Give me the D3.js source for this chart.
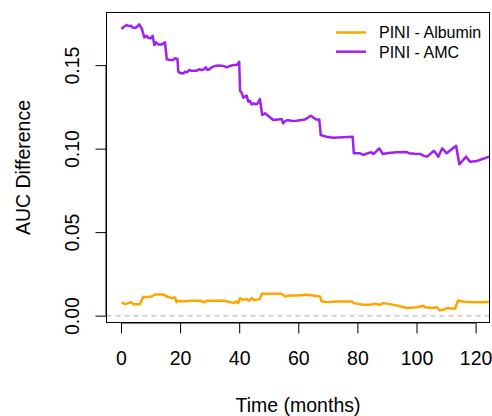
<!DOCTYPE html>
<html>
<head>
<meta charset="utf-8">
<script src="https://cdn.jsdelivr.net/npm/d3@7/dist/d3.min.js"></script>
<style>
html,body{margin:0;padding:0;background:#fff;}
text{font-family:"Liberation Sans",Arial,sans-serif;fill:#000;}
</style>
</head>
<body>
<svg id="chart" width="492" height="416"></svg>
<script>
// ---- data ----
const seriesNames = ["PINI - Albumin", "PINI - AMC"];
const seriesColors = ["#FFA500", "#A020F0"];

const amcMonths = [0.2,1.0,1.9,2.7,3.4,4.0,5.1,6.2,7.0,7.9,8.7,9.2,10.0,10.7,11.3,11.8,12.6,13.8,14.9,15.5,16.6,17.7,18.3,19.1,19.4,20.2,21.1,21.7,22.4,23.1,23.7,24.5,25.6,26.4,27.3,28.1,28.7,29.2,29.9,30.7,31.8,32.9,34.6,35.8,36.9,38.0,39.2,40.0,40.3,40.8,41.4,41.9,42.5,43.1,43.7,44.2,45.0,45.6,46.3,47.0,47.8,48.7,49.8,51.5,53.2,54.4,54.9,55.5,56.4,57.8,59.4,62.3,64.3,66.0,67.1,67.6,69.6,71.8,75.2,78.4,78.8,80.9,82.0,83.4,84.8,85.4,86.2,87.4,88.6,90.5,93.3,96.7,97.5,99.5,101.4,102.3,103.6,105.9,107.4,108.7,110.2,113.4,114.5,116.8,118.1,120.4,124.6];
const amcValues = [0.1716,0.1730,0.1740,0.1734,0.1736,0.1724,0.1724,0.1744,0.1720,0.1666,0.1676,0.1664,0.1660,0.1676,0.1620,0.1636,0.1624,0.1624,0.1636,0.1535,0.1531,0.1531,0.1541,0.1537,0.1461,0.1451,0.1451,0.1461,0.1457,0.1471,0.1467,0.1467,0.1467,0.1475,0.1471,0.1475,0.1487,0.1471,0.1475,0.1487,0.1495,0.1497,0.1495,0.1487,0.1495,0.1501,0.1501,0.1520,0.1345,0.1337,0.1305,0.1311,0.1317,0.1281,0.1285,0.1265,0.1271,0.1265,0.1271,0.1297,0.1201,0.1211,0.1197,0.1171,0.1175,0.1177,0.1151,0.1165,0.1171,0.1165,0.1167,0.1175,0.1197,0.1175,0.1175,0.1081,0.1071,0.1065,0.1068,0.1071,0.0972,0.0972,0.0962,0.0972,0.0978,0.0968,0.0981,0.1002,0.0968,0.0974,0.0978,0.0980,0.0972,0.0969,0.0968,0.0958,0.0952,0.0987,0.0952,0.1002,0.0972,0.1017,0.0906,0.0952,0.0922,0.0926,0.0952];

const albMonths = [0.2,1.4,2.5,3.4,4.2,6.4,7.5,8.7,10.4,11.5,14.3,15.5,17.2,18.3,18.8,19.4,20.5,23.3,26.7,28.4,29.0,32.4,34.6,36.9,38.2,38.9,39.7,40.3,41.2,42.5,43.4,44.2,45.1,47.0,47.7,50.4,54.3,55.5,57.2,59.4,62.8,65.1,67.3,67.9,69.6,73.0,78.1,78.8,82.0,84.3,86.0,87.6,88.8,91.0,94.4,96.7,100.0,102.3,102.9,105.7,106.8,107.9,109.1,110.2,113.0,114.1,115.8,118.1,120.4,124.6];
const albValues = [0.0080,0.0069,0.0075,0.0080,0.0069,0.0069,0.0111,0.0111,0.0115,0.0127,0.0127,0.0115,0.0105,0.0109,0.0081,0.0089,0.0085,0.0089,0.0089,0.0080,0.0089,0.0089,0.0091,0.0081,0.0075,0.0085,0.0075,0.0105,0.0095,0.0099,0.0089,0.0105,0.0093,0.0099,0.0131,0.0131,0.0131,0.0115,0.0121,0.0121,0.0125,0.0121,0.0115,0.0085,0.0081,0.0085,0.0085,0.0075,0.0065,0.0065,0.0071,0.0065,0.0075,0.0069,0.0056,0.0046,0.0050,0.0059,0.0050,0.0046,0.0051,0.0032,0.0035,0.0046,0.0041,0.0091,0.0085,0.0081,0.0080,0.0081];

const xTicks = [0, 20, 40, 60, 80, 100, 120];
const yTicks = [0.00, 0.05, 0.10, 0.15];
const xTitle = "Time (months)";
const yTitle = "AUC Difference";

// ---- layout ----
const L = 106.5, R = 489.5, T = 12.5, B = 322.5;
const FS = "19.5px";
const svg = d3.select("#chart");
const x = d3.scaleLinear().domain([-4.9, 124.7]).range([L, R]);
const y = d3.scaleLinear().domain([-0.0041, 0.1815]).range([B, T]);

svg.append("defs").append("clipPath").attr("id", "clip")
  .append("rect").attr("x", L).attr("y", T).attr("width", R - L).attr("height", B - T);

const plot = svg.append("g").attr("clip-path", "url(#clip)");

// reference line at 0
plot.append("line")
  .attr("x1", L).attr("x2", R).attr("y1", y(0)).attr("y2", y(0))
  .attr("stroke", "#D3D3D3").attr("stroke-width", 2).attr("stroke-dasharray", "5,4");

const line = d3.line().x(d => x(d[0])).y(d => y(d[1]));
const albData = albMonths.map((m, i) => [m, albValues[i]]);
const amcData = amcMonths.map((m, i) => [m, amcValues[i]]);

[[albData, seriesColors[0]], [amcData, seriesColors[1]]].forEach(([d, c]) => {
  plot.append("path").datum(d).attr("d", line)
    .attr("fill", "none").attr("stroke", c).attr("stroke-width", 2.5)
    .attr("stroke-linejoin", "round").attr("stroke-linecap", "butt");
});

// box
svg.append("rect").attr("x", L).attr("y", T).attr("width", R - L).attr("height", B - T)
  .attr("fill", "none").attr("stroke", "#000").attr("stroke-width", 1);

// x axis
const xAxis = d3.axisBottom(x).tickValues(xTicks).tickSize(11).tickPadding(5)
  .tickFormat(d3.format("d"));
const gx = svg.append("g").attr("transform", `translate(0,${B})`).call(xAxis);
gx.select(".domain").attr("d", `M${x(xTicks[0])},0.5H${x(xTicks[xTicks.length-1])}`);
gx.selectAll("text").attr("font-size", FS).attr("font-family", '"Liberation Sans",Arial,sans-serif')
  .attr("dy", null).attr("y", 42.5).attr("fill", "#000");
gx.selectAll("line,path").attr("stroke", "#000");

// y axis
const yAxis = d3.axisLeft(y).tickValues(yTicks).tickSize(11).tickFormat(d3.format(".2f"));
const gy = svg.append("g").attr("transform", `translate(${L},0)`).call(yAxis);
gy.select(".domain").attr("d", `M-0.5,${y(yTicks[0])}V${y(yTicks[yTicks.length-1])}`);
gy.selectAll("line,path").attr("stroke", "#000");
gy.selectAll(".tick text")
  .attr("font-size", FS).attr("font-family", '"Liberation Sans",Arial,sans-serif')
  .attr("x", null).attr("dy", null).attr("fill", "#000")
  .attr("text-anchor", "middle")
  .attr("transform", "translate(-28,0) rotate(-90)");

// axis titles
svg.append("text").attr("x", (L + R) / 2).attr("y", 411.5)
  .attr("text-anchor", "middle").attr("font-size", FS).text(xTitle);
svg.append("text").attr("transform", `translate(30,${(T + B) / 2}) rotate(-90)`)
  .attr("text-anchor", "middle").attr("font-size", FS).text(yTitle);

// legend
const legY = [32.5, 51.7];
seriesNames.forEach((n, i) => {
  svg.append("line").attr("x1", 336).attr("x2", 366).attr("y1", legY[i]).attr("y2", legY[i])
    .attr("stroke", seriesColors[i]).attr("stroke-width", 2.5);
  svg.append("text").attr("x", 379).attr("y", legY[i] + 5.8)
    .attr("font-size", "16px").text(n);
});
</script>
</body>
</html>
